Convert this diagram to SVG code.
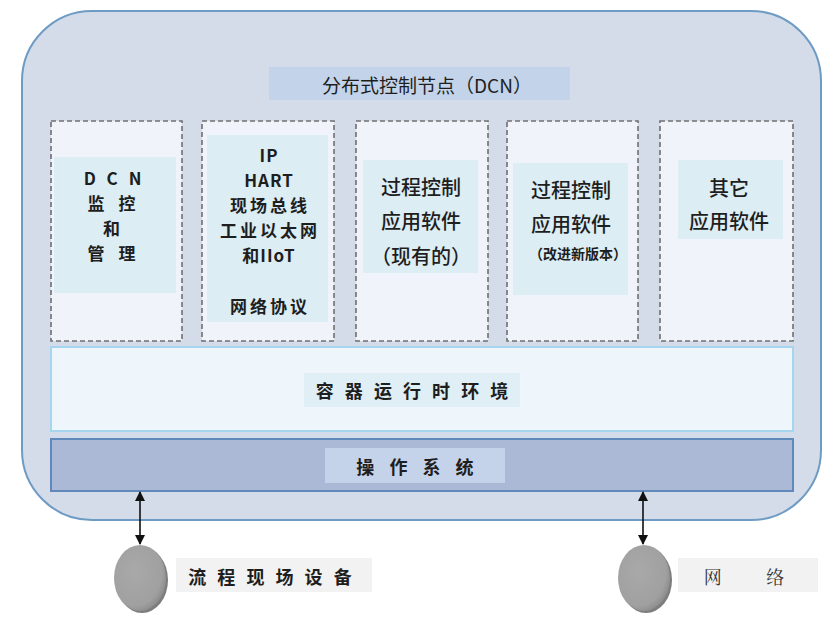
<svg xmlns="http://www.w3.org/2000/svg" width="835" height="621" viewBox="0 0 835 621">
<defs>
<style>
text{font-family:"Noto Sans CJK SC","Noto Sans",sans-serif;fill:#1e1e1e;text-anchor:middle;dominant-baseline:central}
.b{font-weight:700}
.m{font-weight:500}
.dash{fill:#f0f4fa;stroke:#6f6f6f;stroke-width:1.6;stroke-dasharray:5 3}
.lbl{fill:#dcedf4}
.conn{stroke:#111;stroke-width:1.6;fill:none;marker-start:url(#ah);marker-end:url(#ah)}
</style>
<marker id="ah" viewBox="0 0 10 10" refX="9" refY="5" markerWidth="10" markerHeight="10" markerUnits="userSpaceOnUse" orient="auto-start-reverse">
<path d="M0,0 L10,5 L0,10 z" fill="#111"/>
</marker>
<radialGradient id="eg" cx="0.4" cy="0.4" r="0.65">
<stop offset="0" stop-color="#a9a9a9"/>
<stop offset="0.8" stop-color="#a0a0a0"/>
<stop offset="1" stop-color="#8a8a8a"/>
</radialGradient>
</defs>
<rect width="835" height="621" fill="#ffffff"/>
<g id="dcn">
<rect x="22" y="11" width="799" height="509" rx="70" ry="70" fill="#d4dcea" stroke="#6e9bc4" stroke-width="2"/>
<rect x="269" y="67" width="301" height="33" fill="#c3d4ea"/>
<text x="427" y="84" font-size="19">分布式控制节点（DCN）</text>
</g>
<g id="node-dcn-mgmt">
<rect class="dash" x="51" y="121" width="131" height="220"/>
<rect class="lbl" x="54" y="157" width="122" height="136"/>
<text class="b" font-size="17" letter-spacing="3"><tspan x="113" y="177" letter-spacing="1" word-spacing="5">D C N</tspan><tspan x="113" y="202" word-spacing="4">监 控</tspan><tspan x="113" y="227">和</tspan><tspan x="113" y="252" word-spacing="4">管 理</tspan></text>
</g>
<g id="node-protocols">
<rect class="dash" x="202" y="121" width="132" height="220"/>
<rect class="lbl" x="207" y="135" width="121" height="187"/>
<text class="b" font-size="17" letter-spacing="3"><tspan x="269" y="154" letter-spacing="1">IP</tspan><tspan x="269" y="179" letter-spacing="1">HART</tspan><tspan x="270" y="204">现场总线</tspan><tspan x="270" y="229">工业以太网</tspan><tspan x="269" y="254" letter-spacing="1">和IIoT</tspan><tspan x="270" y="305">网络协议</tspan></text>
</g>
<g id="node-app-existing">
<rect class="dash" x="356" y="121" width="132" height="220"/>
<rect class="lbl" x="363" y="160" width="115" height="113"/>
<text class="m" font-size="20"><tspan x="421" y="186">过程控制</tspan><tspan x="421" y="220">应用软件</tspan><tspan x="421" y="255">（现有的）</tspan></text>
</g>
<g id="node-app-new">
<rect class="dash" x="507" y="121" width="131" height="220"/>
<rect class="lbl" x="513" y="163" width="115" height="132"/>
<text class="m" font-size="20"><tspan x="571" y="189">过程控制</tspan><tspan x="571" y="223">应用软件</tspan><tspan x="578" y="253" font-size="14" font-weight="700">（改进新版本）</tspan></text>
</g>
<g id="node-app-other">
<rect class="dash" x="660" y="121" width="133" height="220"/>
<rect class="lbl" x="678" y="160" width="105" height="79"/>
<text class="m" font-size="20"><tspan x="729" y="187">其它</tspan><tspan x="729" y="220">应用软件</tspan></text>
</g>
<g id="node-container-runtime">
<rect x="51" y="347" width="742" height="84" fill="#eef5fb" stroke="#a6d5ef" stroke-width="2"/>
<rect x="304" y="373" width="216" height="34" fill="#e0eff6"/>
<text class="b" x="412" y="390" font-size="18" word-spacing="7">容 器 运 行 时 环 境</text>
</g>
<g id="node-os">
<rect x="51" y="439" width="742" height="52" fill="#abb9d6" stroke="#5f88bb" stroke-width="2"/>
<rect x="325" y="448" width="180" height="35" fill="#c5d3ea"/>
<text class="b" x="415" y="466" font-size="18" word-spacing="11">操 作 系 统</text>
</g>
<g id="node-field-devices">
<ellipse cx="142" cy="580" rx="26" ry="33" fill="#7d7d7d"/>
<ellipse cx="140" cy="578" rx="26" ry="33" fill="url(#eg)"/>
<rect x="176" y="558" width="196" height="34" fill="#f2f2f2"/>
<text class="b" x="270" y="576" font-size="18" word-spacing="7">流 程 现 场 设 备</text>
</g>
<g id="node-network">
<ellipse cx="646" cy="580" rx="26" ry="33" fill="#7d7d7d"/>
<ellipse cx="644" cy="578" rx="26" ry="33" fill="url(#eg)"/>
<rect x="678" y="558" width="140" height="34" fill="#f2f2f2"/>
<text x="744" y="576" font-size="18" style="font-family:'Noto Serif CJK SC','Liberation Serif','Noto Sans CJK SC',serif;fill:#333" word-spacing="40">网 络</text>
</g>
<g id="connectors">
<line class="conn" x1="140" y1="492" x2="140" y2="544"/>
<line class="conn" x1="643" y1="492" x2="643" y2="544"/>
</g>
</svg>
